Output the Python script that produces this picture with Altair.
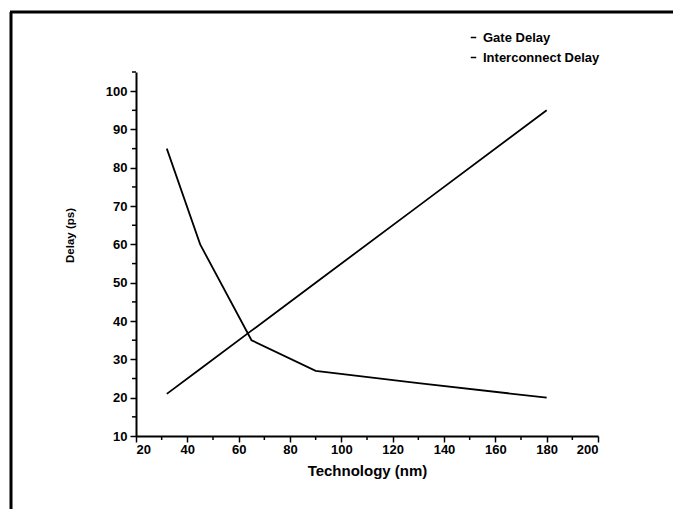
import altair as alt
import pandas as pd

# Technology nodes (nm)
tech = [32, 45, 65, 90, 130, 180]
gate_delay = [21, 27.5, 37.5, 50, 70, 95]
interconnect_delay = [85, 60, 35, 27, 23.8, 20]
series_names = ["Gate Delay", "Interconnect Delay"]

x_ticks = [20, 40, 60, 80, 100, 120, 140, 160, 180, 200]
x_minor = [30, 50, 70, 90, 110, 130, 150, 170, 190]
y_ticks = [10, 20, 30, 40, 50, 60, 70, 80, 90, 100]
y_minor = [15, 25, 35, 45, 55, 65, 75, 85, 95, 105]

rows = []
for t, g in zip(tech, gate_delay):
    rows.append({"tech": t, "delay": g, "series": series_names[0]})
for t, d in zip(tech, interconnect_delay):
    rows.append({"tech": t, "delay": d, "series": series_names[1]})
df = pd.DataFrame(rows)

FONT = "Liberation Sans"
xscale = alt.Scale(domain=[20, 200], nice=False, zero=False)
yscale = alt.Scale(domain=[10, 105], nice=False, zero=False)

lines = alt.Chart(df).mark_line(strokeWidth=1.8, color="black").encode(
    x=alt.X("tech:Q", scale=xscale, title="Technology (nm)",
            axis=alt.Axis(values=x_ticks, format="d", grid=False,
                          domainColor="black", domainWidth=2,
                          tickColor="black", tickWidth=1.5, tickSize=6,
                          labelFont=FONT, labelFontSize=13, labelFontWeight="bold",
                          labelColor="black", labelPadding=1,
                          titleFont=FONT, titleFontSize=15, titleFontWeight="bold",
                          titleColor="black", titlePadding=7)),
    y=alt.Y("delay:Q", scale=yscale, title="Delay (ps)",
            axis=alt.Axis(values=y_ticks, format="d", grid=False,
                          domainColor="black", domainWidth=2,
                          tickColor="black", tickWidth=1.5, tickSize=6,
                          labelFont=FONT, labelFontSize=13, labelFontWeight="bold",
                          labelColor="black", labelPadding=3,
                          titleFont=FONT, titleFontSize=11.5, titleFontWeight="bold",
                          titleColor="black", titlePadding=30, titleY=163)),
    color=alt.Color("series:N",
                    scale=alt.Scale(domain=series_names, range=["black", "black"]),
                    legend=alt.Legend(title=None, orient="none", legendX=331, legendY=-41,
                                      symbolType="stroke", symbolSize=30,
                                      symbolStrokeWidth=1.5, symbolStrokeColor="black",
                                      labelFont=FONT, labelFontSize=13,
                                      labelFontWeight="bold", labelColor="black",
                                      rowPadding=6, symbolOffset=0, labelOffset=3)),
    order="tech:Q",
)

ymin_df = pd.DataFrame({"v": y_minor})
xmin_df = pd.DataFrame({"v": x_minor})

y_minor_ticks = alt.Chart(ymin_df).mark_rule(color="black", strokeWidth=1.5).encode(
    y=alt.Y("v:Q", scale=yscale), x=alt.value(-4), x2=alt.value(0))
x_minor_ticks = alt.Chart(xmin_df).mark_rule(color="black", strokeWidth=1.5).encode(
    x=alt.X("v:Q", scale=xscale), y=alt.value(364), y2=alt.value(368))

frame_top = alt.Chart(pd.DataFrame({"a": [0]})).mark_rule(color="black", strokeWidth=3).encode(
    x=alt.value(-126), x2=alt.value(545), y=alt.value(-60))
frame_left = alt.Chart(pd.DataFrame({"a": [0]})).mark_rule(color="black", strokeWidth=3).encode(
    x=alt.value(-125), y=alt.value(-60), y2=alt.value(445))

chart = alt.layer(frame_top, frame_left, y_minor_ticks, x_minor_ticks, lines).properties(
    width=462, height=364,
    autosize=alt.AutoSizeParams(type="none"),
    padding={"left": 128, "top": 64, "right": 75, "bottom": 73},
    background="white",
).configure_view(stroke=None)

chart.save("out.html", embed_options={"renderer": "svg", "actions": False})
